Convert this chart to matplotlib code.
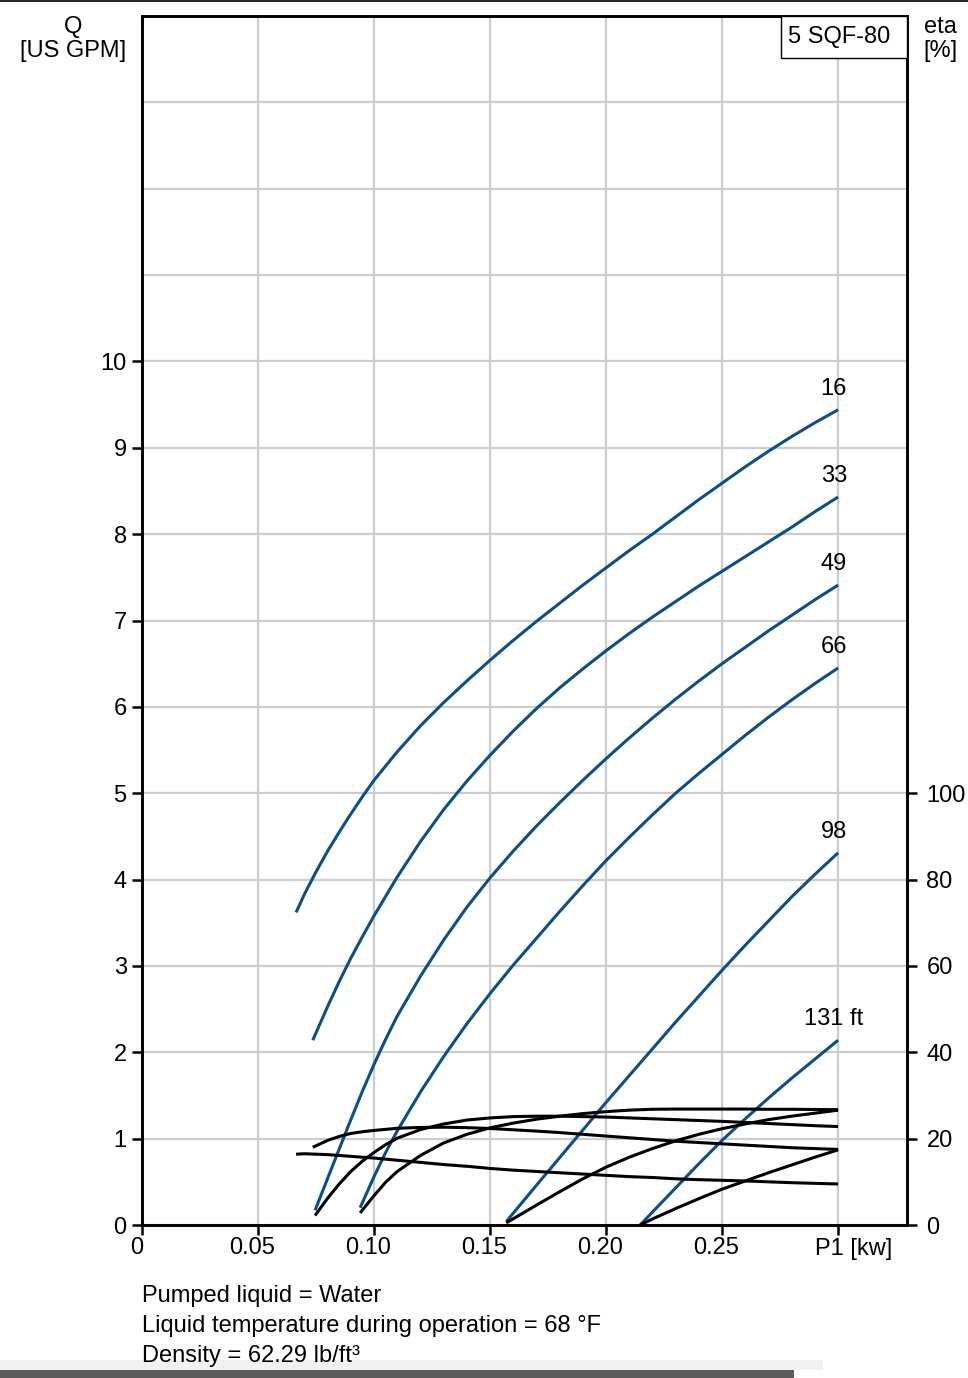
import matplotlib.pyplot as plt
import matplotlib.transforms as mtransforms
from matplotlib.patches import Rectangle

plt.rcParams['font.family'] = ['Liberation Sans', 'DejaVu Sans']

# Q [US GPM] and eta [%] vs P1 [kW], one set per head
p_16 = [0.0664, 0.07, 0.075, 0.08, 0.085, 0.09, 0.095, 0.10, 0.11, 0.12, 0.13, 0.14, 0.15, 0.16,
        0.17, 0.18, 0.19, 0.20, 0.21, 0.22, 0.23, 0.24, 0.25, 0.26, 0.27, 0.28, 0.29, 0.30]
q_16 = [3.62, 3.83, 4.09, 4.33, 4.55, 4.76, 4.96, 5.15, 5.48, 5.78, 6.05, 6.30, 6.54, 6.77,
        6.99, 7.20, 7.41, 7.61, 7.81, 8.00, 8.20, 8.40, 8.59, 8.78, 8.96, 9.13, 9.29, 9.44]
eta_16 = [16.4, 16.5, 16.4, 16.3, 16.1, 15.9, 15.7, 15.5, 15.0, 14.5, 14.0, 13.6, 13.1, 12.7,
          12.4, 12.1, 11.8, 11.5, 11.2, 11.0, 10.7, 10.5, 10.35, 10.2, 10.0, 9.8, 9.65, 9.5]

p_33 = [0.0736, 0.08, 0.085, 0.09, 0.095, 0.10, 0.11, 0.12, 0.13, 0.14, 0.15, 0.16, 0.17,
        0.18, 0.19, 0.20, 0.21, 0.22, 0.23, 0.24, 0.25, 0.26, 0.27, 0.28, 0.29, 0.30]
q_33 = [2.14, 2.53, 2.82, 3.09, 3.34, 3.58, 4.03, 4.44, 4.81, 5.14, 5.44, 5.72, 5.98,
        6.22, 6.44, 6.65, 6.85, 7.04, 7.22, 7.40, 7.57, 7.74, 7.91, 8.08, 8.26, 8.43]
eta_33 = [18.0, 19.6, 20.5, 21.2, 21.6, 21.9, 22.4, 22.6, 22.65, 22.55, 22.35, 22.05, 21.75,
          21.4, 21.0, 20.6, 20.2, 19.8, 19.4, 19.1, 18.8, 18.5, 18.2, 17.9, 17.7, 17.5]

p_49 = [0.0746, 0.08, 0.085, 0.09, 0.095, 0.10, 0.105, 0.11, 0.12, 0.13, 0.14, 0.15, 0.16,
        0.17, 0.18, 0.19, 0.20, 0.21, 0.22, 0.23, 0.24, 0.25, 0.26, 0.27, 0.28, 0.29, 0.30]
q_49 = [0.17, 0.54, 0.88, 1.22, 1.55, 1.86, 2.15, 2.42, 2.88, 3.30, 3.68, 4.02, 4.33,
        4.62, 4.89, 5.15, 5.40, 5.64, 5.87, 6.09, 6.30, 6.50, 6.69, 6.88, 7.06, 7.24, 7.41]
eta_49 = [2.2, 6.2, 9.5, 12.4, 14.8, 16.8, 18.6, 20.1, 22.1, 23.4, 24.3, 24.8, 25.1,
          25.2, 25.2, 25.1, 25.0, 24.8, 24.6, 24.4, 24.2, 24.0, 23.75, 23.5, 23.25, 23.0, 22.8]

p_66 = [0.094, 0.10, 0.105, 0.11, 0.12, 0.13, 0.14, 0.15, 0.16, 0.17, 0.18, 0.19, 0.20,
        0.21, 0.22, 0.23, 0.24, 0.25, 0.26, 0.27, 0.28, 0.29, 0.30]
q_66 = [0.2, 0.56, 0.84, 1.09, 1.54, 1.95, 2.33, 2.68, 3.01, 3.32, 3.63, 3.93, 4.22,
        4.49, 4.75, 5.00, 5.23, 5.45, 5.67, 5.88, 6.08, 6.27, 6.45]
eta_66 = [2.8, 6.8, 9.9, 12.4, 16.1, 19.0, 21.0, 22.5, 23.6, 24.5, 25.2, 25.8, 26.25,
          26.6, 26.8, 26.85, 26.85, 26.85, 26.85, 26.8, 26.8, 26.75, 26.7]

p_98 = [0.157, 0.17, 0.18, 0.19, 0.20, 0.21, 0.22, 0.23, 0.24, 0.25, 0.26, 0.27, 0.28, 0.29, 0.30]
q_98 = [0.04, 0.46, 0.78, 1.10, 1.42, 1.73, 2.04, 2.35, 2.65, 2.95, 3.24, 3.52, 3.80, 4.06, 4.31]
eta_98 = [0.5, 4.6, 7.7, 10.7, 13.4, 15.7, 17.7, 19.5, 21.0, 22.3, 23.4, 24.4, 25.2, 25.9, 26.6]

p_131 = [0.2147, 0.22, 0.23, 0.24, 0.25, 0.26, 0.27, 0.28, 0.29, 0.30]
q_131 = [0.0, 0.15, 0.43, 0.71, 0.98, 1.23, 1.47, 1.70, 1.92, 2.14]
eta_131 = [0.0, 1.4, 3.8, 6.1, 8.3, 10.2, 12.1, 13.9, 15.7, 17.4]

curve_labels = ["16", "33", "49", "66", "98", "131 ft"]
p_sets = [p_16, p_33, p_49, p_66, p_98, p_131]
q_sets = [q_16, q_33, q_49, q_66, q_98, q_131]
eta_sets = [eta_16, eta_33, eta_49, eta_66, eta_98, eta_131]

x_ticks = [0, 0.05, 0.10, 0.15, 0.20, 0.25, 0.30]
x_tick_labels = ["0", "0.05", "0.10", "0.15", "0.20", "0.25", "P1 [kw]"]
q_ticks = list(range(0, 11))
eta_ticks = [0, 20, 40, 60, 80, 100]

notes = ["Pumped liquid = Water",
         "Liquid temperature during operation = 68 \u00b0F",
         "Density = 62.29 lb/ft\u00b3"]

BLUE = "#0b4f86"
GRID = "#c9ccd1"
FS = 17

fig = plt.figure(figsize=(9.68, 13.78), dpi=100)
ax = fig.add_axes([142 / 968, 153 / 1378, 765 / 968, 1209 / 1378])

ax.set_xlim(0, 0.3297)
ax.set_ylim(0, 14.0)
ax.set_xticks(x_ticks)
ax.set_xticklabels(x_tick_labels)
ax.set_yticks(q_ticks)
ax.set_yticks([11, 12, 13], minor=True)
ax.grid(True, which="both", color=GRID, linewidth=1.6, zorder=0)
ax.set_axisbelow(True)
ax.tick_params(axis="both", which="major", direction="out", length=7, width=1.8,
               labelsize=FS, color="black")
ax.tick_params(axis="x", pad=2)
ax.tick_params(axis="y", pad=4)
ax.tick_params(axis="y", which="minor", length=0)
for s in ax.spines.values():
    s.set_linewidth(1.9)

# nudge x tick labels: a bit left, the axis name to the right
for i, lab in enumerate(ax.get_xticklabels()):
    dx = 11 / 72 if i == len(x_ticks) - 1 else -4 / 72
    lab.set_transform(lab.get_transform() + mtransforms.ScaledTranslation(dx, 0, fig.dpi_scale_trans))

for p, q, lab in zip(p_sets, q_sets, curve_labels):
    ax.plot(p, q, color=BLUE, linewidth=2.2, solid_capstyle="butt", zorder=3)
    ax.annotate(lab, xy=(p[-1], q[-1]), xytext=(-3, 7), textcoords="offset points",
                ha="center", va="bottom", fontsize=FS)

ax2 = ax.twinx()
ax2.set_ylim(0, 280)
ax2.set_yticks(eta_ticks)
ax2.tick_params(axis="y", direction="out", length=7, width=1.8, labelsize=FS, pad=7)
for s in ax2.spines.values():
    s.set_linewidth(1.9)
for p, e in zip(p_sets, eta_sets):
    ax2.plot(p, e, color="black", linewidth=2.2, solid_capstyle="butt", zorder=3)

# model box
box = Rectangle((0.8353, 0.9653), 0.1647, 0.0347, transform=ax.transAxes,
                facecolor="white", edgecolor="black", linewidth=1.0, zorder=5, clip_on=False)
ax2.add_patch(box)
ax2.text(0.8445, 0.9827, "5 SQF-80", transform=ax.transAxes, fontsize=FS,
         ha="left", va="center", zorder=6)

fig.text(73 / 968, 1 - 39 / 1378, "Q\n[US GPM]", ha="center", va="center",
         fontsize=FS, linespacing=1.15)
fig.text(940 / 968, 1 - 39 / 1378, "eta\n[%]", ha="center", va="center",
         fontsize=FS, linespacing=1.15)

for i, line in enumerate(notes):
    fig.text(142 / 968, (1378 - 1302 - 30 * i) / 1378, line, ha="left", va="baseline",
             fontsize=FS)

# screenshot edges
fig.add_artist(plt.Line2D([0, 1], [0.9995, 0.9995], color="black", linewidth=1.2,
                          transform=fig.transFigure))
fig.add_artist(Rectangle((0, 8 / 1378), 0.85, 10 / 1378, transform=fig.transFigure,
                         facecolor="#f1f1f1", edgecolor="none"))
fig.add_artist(Rectangle((0, 0), 0.82, 8 / 1378, transform=fig.transFigure,
                         facecolor="#5c5c5c", edgecolor="none"))

fig.savefig("out.png", dpi=100)
